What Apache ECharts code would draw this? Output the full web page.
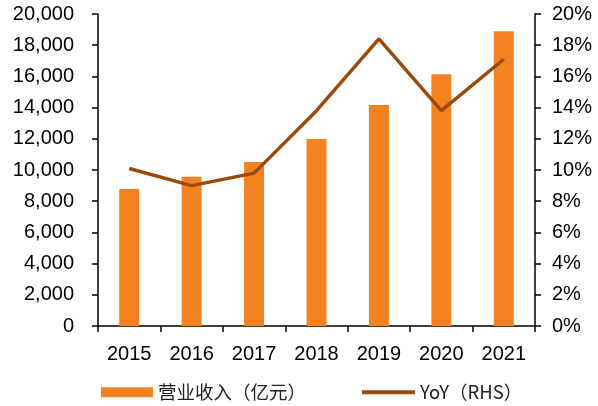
<!DOCTYPE html>
<html>
<head>
<meta charset="utf-8">
<script src="https://cdn.jsdelivr.net/npm/echarts@6/dist/echarts.min.js"></script>
<style>
  html, body { margin: 0; padding: 0; background: #fff; }
  #chart { width: 598px; height: 406px; }
</style>
</head>
<body>
<div id="chart"></div>
<script>
  // 年份
  var years = ['2015', '2016', '2017', '2018', '2019', '2020', '2021'];
  // 营业收入（亿元）
  var revenue = [8780, 9570, 10510, 11990, 14170, 16130, 18890];
  // 同比增速 %
  var yoy = [10.1, 9.0, 9.8, 13.8, 18.4, 13.8, 17.1];

  var barName = '营业收入（亿元）';
  var lineName = 'YoY（RHS）';

  var myChart = echarts.init(document.getElementById('chart'));
  var option = {
    animation: false,
    textStyle: { fontFamily: 'Liberation Sans, Arial, sans-serif' },
    grid: { left: 98, right: 63, top: 14, bottom: 80, containLabel: false },
    legend: [{
      data: [barName],
      left: 96,
      top: 378,
      itemWidth: 52,
      itemHeight: 10,
      icon: 'rect',
      textStyle: { fontSize: 18.5, color: '#222', fontFamily: 'Noto Sans CJK SC' }
    }, {
      data: [lineName],
      left: 357,
      top: 378,
      itemWidth: 53,
      itemHeight: 4,
      icon: 'rect',
      textStyle: { fontSize: 18.5, color: '#222', fontFamily: 'Noto Sans CJK SC' }
    }],
    xAxis: {
      type: 'category',
      data: years,
      axisLine: { lineStyle: { color: '#000', width: 1.5 } },
      axisTick: { show: true, length: 6, lineStyle: { color: '#000', width: 1.5 } },
      axisLabel: { color: '#000', fontSize: 20, margin: 18 }
    },
    yAxis: [{
      type: 'value',
      min: 0,
      max: 20000,
      interval: 2000,
      splitLine: { show: false },
      axisLine: { show: true, lineStyle: { color: '#000', width: 1.5 } },
      axisTick: { show: true, length: 6, lineStyle: { color: '#000', width: 1.5 } },
      axisLabel: {
        color: '#000', fontSize: 20, margin: 24,
        formatter: function (v) { return v.toLocaleString('en-US'); }
      }
    }, {
      type: 'value',
      min: 0,
      max: 20,
      interval: 2,
      position: 'right',
      splitLine: { show: false },
      axisLine: { show: true, lineStyle: { color: '#000', width: 1.5 } },
      axisTick: { show: true, length: 6, lineStyle: { color: '#000', width: 1.5 } },
      axisLabel: { color: '#000', fontSize: 20, margin: 17, formatter: '{value}%' }
    }],
    series: [{
      name: barName,
      type: 'bar',
      data: revenue,
      barWidth: 20,
      itemStyle: { color: '#F58220' }
    }, {
      name: lineName,
      type: 'line',
      yAxisIndex: 1,
      data: yoy,
      symbol: 'none',
      lineStyle: { color: '#9C4A0C', width: 3.5 },
      itemStyle: { color: '#9C4A0C' }
    }]
  };
  myChart.setOption(option);
</script>
</body>
</html>
